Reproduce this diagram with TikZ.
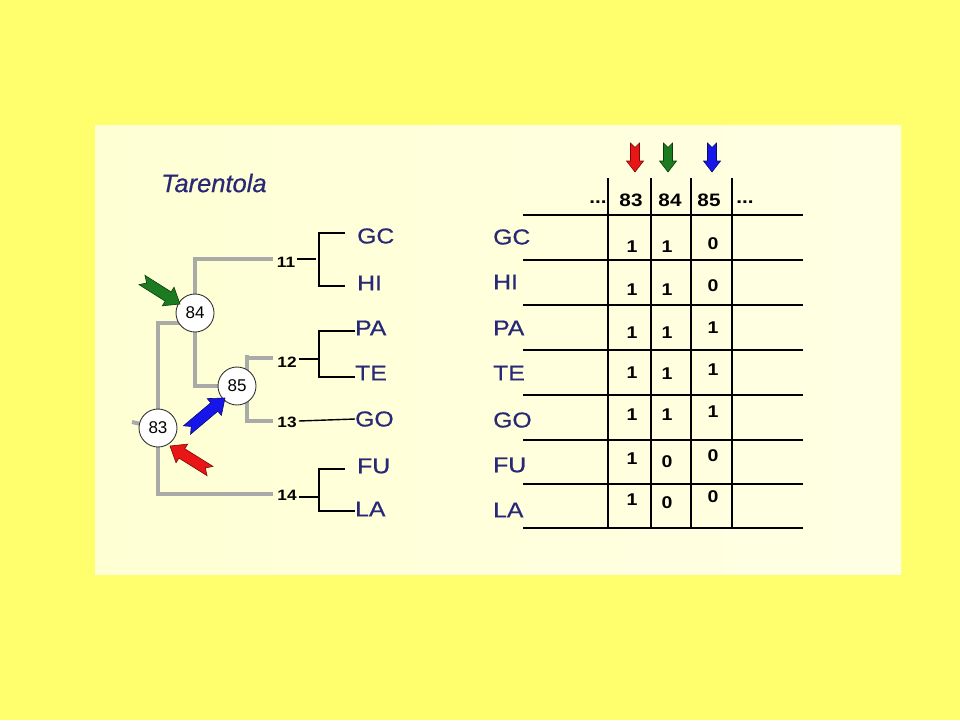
\documentclass[tikz,border=0pt]{standalone}
\usepackage{fontspec}
\setmainfont{Liberation Sans}
\newfontfamily\widesans[FakeStretch=1.15]{Liberation Sans}
\newfontfamily\widesansheavy[FakeStretch=1.15,FakeBold=0.7]{Liberation Sans}
\newfontfamily\titlesans[FakeBold=0.5]{Liberation Sans}
\usetikzlibrary{calc}
\definecolor{bgy}{RGB}{255,255,110}
\definecolor{panL}{RGB}{255,255,212}
\definecolor{panM}{RGB}{255,255,240}
\definecolor{panR}{RGB}{255,255,228}
\definecolor{navy}{RGB}{40,40,118}
\definecolor{treegray}{RGB}{170,170,168}
\definecolor{ared}{RGB}{232,22,22}
\definecolor{aredd}{RGB}{120,10,10}
\definecolor{agreen}{RGB}{28,122,32}
\definecolor{agreend}{RGB}{10,60,10}
\definecolor{ablue}{RGB}{22,22,235}
\definecolor{ablued}{RGB}{10,10,110}
\newcommand\blockarrow[7]{%
  \coordinate (ba-b) at ($(#4)!#7!(#3)$);
  \coordinate (ba-n) at ($(#3)!#5!(#4)$);
  \filldraw[fill=#1,draw=#2,line width=0.6pt,line join=miter]
   ($(#3)!#5!90:(#4)$) -- ($(ba-b)!#5!-90:(#3)$) -- ($(ba-b)!#6!-90:(#3)$) -- (#4)
   -- ($(ba-b)!#6!90:(#3)$) -- ($(ba-b)!#5!90:(#3)$) -- ($(#3)!#5!-90:(#4)$) -- (ba-n) -- cycle;}
\tikzset{
  tiplabel/.style={font=\widesansheavy\fontsize{21.5}{21.5}\selectfont, text=navy, inner sep=0pt, anchor=west},
  cladenum/.style={font=\widesans\bfseries\fontsize{15}{15}\selectfont, inner sep=0pt},
  hdrnum/.style={font=\widesans\bfseries\fontsize{18}{18}\selectfont, inner sep=0pt},
  cellval/.style={font=\widesans\bfseries\fontsize{17}{17}\selectfont, inner sep=0pt},
  nodecirc/.style={circle, draw=black!80, fill=white, minimum size=38pt, inner sep=0pt,
                   line width=0.9pt, font=\fontsize{17}{17}\selectfont},
  grayline/.style={draw=treegray, line width=4pt},
  blackline/.style={draw=black, line width=1.4pt},
  tabline/.style={draw=black, line width=1.5pt},
}
\begin{document}
\begin{tikzpicture}[x=1pt,y=-1pt]
\useasboundingbox (0,0) rectangle (960,720);
\fill[bgy] (0,0) rectangle (960,720);
\shade[left color=panL, middle color=panM, right color=panR] (95,125) rectangle (901,574);

% title
\node[font=\titlesans\itshape\fontsize{25.5}{25.5}\selectfont, text=navy, inner sep=0pt, anchor=west] (title) at (161,183) {Tarentola};

% internal nodes
\coordinate (n84c) at (195,313);
\coordinate (n85c) at (237,386);
\coordinate (n83c) at (158,428);

% clade endpoints
\coordinate (g11) at (273,259);
\coordinate (g12) at (273,358);
\coordinate (g13) at (273,421);
\coordinate (g14) at (273,494);
\coordinate (stub) at (132,422);

% gray tree lines
\draw[grayline] (n84c) |- (g11);
\draw[grayline] (n84c) |- (n85c);
\draw[grayline] (n84c) ++(0,10) -| (n83c);
\draw[grayline] (stub) -- (n83c);
\draw[grayline] (n83c) |- (g14);
\draw[grayline] (247,355) |- (g13);
\draw[grayline] (247,358) -- (g12);

% circles
\node[nodecirc] (n84) at (n84c) {84};
\node[nodecirc] (n85) at (n85c) {85};
\node[nodecirc] (n83) at (n83c) {83};

% clade numbers
\node[cladenum] (c11) at (286,262) {11};
\node[cladenum] (c12) at (287,362) {12};
\node[cladenum] (c13) at (287,422) {13};
\node[cladenum] (c14) at (287,495) {14};

% tip labels (tree)
\node[tiplabel] (tGC) at (357,236) {GC};
\node[tiplabel] (tHI) at (357,283) {HI};
\node[tiplabel] (tPA) at (355,328) {PA};
\node[tiplabel] (tTE) at (355,373) {TE};
\node[tiplabel] (tGO) at (355,419) {GO};
\node[tiplabel] (tFU) at (357,466) {FU};
\node[tiplabel] (tLA) at (355,509) {LA};

% black brackets
\draw[blackline] (c11.east) ++(2,-3) -- ++(19,0);
\draw[blackline] (345,233) -- (319,233) -- (319,286) -- (345,286);
\draw[blackline] (c12.east) ++(2,-3) -- ++(19,0);
\draw[blackline] (tPA.west) ++(0,3) coordinate (pa1) -- (pa1 -| 319,0) |- ($(tTE.west)+(0,4)$);
\draw[blackline] (c13.east) ++(2,-1) -- (tGO.west);
\draw[blackline] (c14.east) ++(2,2) -- ++(19,0);
\draw[blackline] (345,469) -- (319,469) -- (319,511) -- ($(tLA.west)+(0,2)$);

% arrows in tree
\coordinate (gtail) at (142,280); \coordinate (gtip) at (180,304);
\coordinate (rtail) at (210,471); \coordinate (rtip) at (170,446);
\coordinate (btail) at (187,430); \coordinate (btip) at (225,398);
\blockarrow{agreen}{agreend}{gtail}{gtip}{5.5pt}{11pt}{14pt}
\blockarrow{ared}{aredd}{rtail}{rtip}{5.5pt}{11pt}{14pt}
\blockarrow{ablue}{ablued}{btail}{btip}{5.5pt}{11pt}{14pt}

% table lines
\foreach \x in {608,651,691,732} \draw[tabline] (\x,178) -- (\x,528);
\foreach \y in {215,260,305,350,395,440,484,528} \draw[tabline] (523,\y) -- (803,\y);

% header
\node[hdrnum] (hd1) at (598,202) {...};
\node[hdrnum] (h83) at (631,200) {83};
\node[hdrnum] (h84) at (670,200) {84};
\node[hdrnum] (h85) at (709,200) {85};
\node[hdrnum] (hd2) at (745,202) {...};

% header arrows
\coordinate (ta1) at (635,143); \coordinate (tb1) at (635,172);
\coordinate (ta2) at (668,143); \coordinate (tb2) at (668,172);
\coordinate (ta3) at (712,143); \coordinate (tb3) at (712,172);
\blockarrow{ared}{aredd}{ta1}{tb1}{4.5pt}{8.5pt}{11pt}
\blockarrow{agreen}{agreend}{ta2}{tb2}{4.5pt}{8.5pt}{11pt}
\blockarrow{ablue}{ablued}{ta3}{tb3}{4.5pt}{8.5pt}{11pt}

% table row labels
\node[tiplabel] (rGC) at (493,237) {GC};
\node[tiplabel] (rHI) at (493,282) {HI};
\node[tiplabel] (rPA) at (493,328) {PA};
\node[tiplabel] (rTE) at (493,373) {TE};
\node[tiplabel] (rGO) at (493,420) {GO};
\node[tiplabel] (rFU) at (493,465) {FU};
\node[tiplabel] (rLA) at (493,510) {LA};

% values
\node[cellval] (v11) at (632,247) {1}; \node[cellval] (v12) at (667,247) {1}; \node[cellval] (v13) at (713,244) {0};
\node[cellval] (v21) at (632,290) {1}; \node[cellval] (v22) at (667,290) {1}; \node[cellval] (v23) at (713,286) {0};
\node[cellval] (v31) at (632,333) {1}; \node[cellval] (v32) at (667,333) {1}; \node[cellval] (v33) at (713,328) {1};
\node[cellval] (v41) at (632,373) {1}; \node[cellval] (v42) at (667,374) {1}; \node[cellval] (v43) at (713,370) {1};
\node[cellval] (v51) at (632,415) {1}; \node[cellval] (v52) at (667,415) {1}; \node[cellval] (v53) at (713,412) {1};
\node[cellval] (v61) at (632,459) {1}; \node[cellval] (v62) at (667,462) {0}; \node[cellval] (v63) at (713,456) {0};
\node[cellval] (v71) at (632,500) {1}; \node[cellval] (v72) at (667,503) {0}; \node[cellval] (v73) at (713,497) {0};
\end{tikzpicture}
\end{document}
